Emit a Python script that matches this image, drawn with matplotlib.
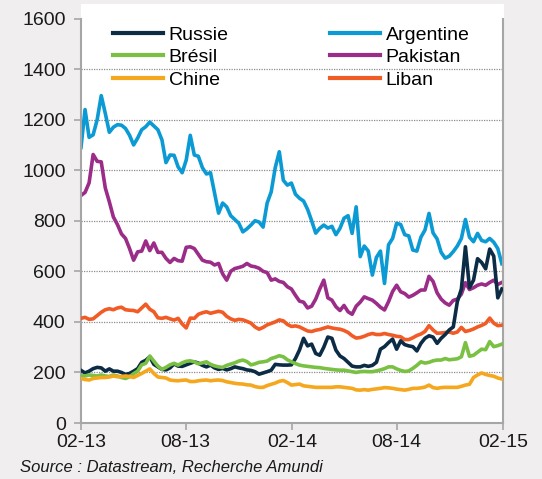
import matplotlib
matplotlib.use("Agg")
import matplotlib.pyplot as plt
import matplotlib.dates as mdates
from matplotlib.patches import Rectangle
import pandas as pd

plt.rcParams['font.family'] = ['Liberation Sans', 'DejaVu Sans']

# Spreads hebdomadaires (pb), fev. 2013 -> fev. 2015
dates = pd.date_range('2013-02-01', periods=105, freq='7D')

russie = [208, 198, 205, 215, 220, 218, 205, 214, 205, 205,
          200, 192, 196, 205, 215, 240, 248, 262, 232, 222,
          212, 210, 218, 234, 225, 224, 230, 236, 242, 237,
          228, 222, 229, 218, 212, 216, 210, 215, 222, 218,
          215, 210, 208, 203, 193, 198, 203, 209, 232, 230,
          229, 229, 230, 255, 289, 335, 305, 312, 275, 268,
          300, 340, 335, 288, 265, 255, 240, 225, 222, 222,
          228, 224, 228, 240, 292, 302, 318, 332, 292, 325,
          310, 305, 302, 285, 315, 335, 345, 340, 315, 335,
          350, 368, 380, 480, 530, 697, 535, 565, 650, 635,
          610, 688, 660, 495, 530]

argentine = [1090, 1240, 1130, 1140, 1200, 1295, 1225, 1150, 1170, 1180,
             1178, 1165, 1138, 1100, 1127, 1160, 1172, 1190, 1175, 1160,
             1120, 1030, 1060, 1059, 1013, 990, 1040, 1138, 1060, 1055,
             1010, 985, 990, 910, 830, 870, 855, 820, 805, 790,
             756, 768, 783, 800, 795, 775, 870, 914, 1010, 1073,
             960, 941, 949, 905, 889, 878, 845, 800, 751, 770,
             783, 771, 778, 745, 770, 810, 820, 750, 855, 658,
             700, 680, 585, 655, 680, 552, 705, 730, 790, 785,
             745, 740, 684, 680, 735, 763, 829, 752, 728, 675,
             652, 660, 678, 700, 730, 805, 735, 717, 750, 722,
             717, 730, 715, 690, 630]

bresil = [188, 186, 190, 188, 186, 190, 186, 184, 190, 186,
          180, 176, 183, 195, 205, 230, 236, 265, 245, 225,
          212, 220, 230, 236, 229, 238, 244, 246, 242, 234,
          238, 242, 232, 226, 222, 220, 228, 233, 238, 245,
          249, 243, 230, 234, 240, 242, 245, 255, 260, 266,
          262, 250, 242, 235, 229, 226, 224, 222, 220, 219,
          216, 214, 212, 210, 209, 209, 206, 203, 200, 203,
          204, 203, 203, 206, 210, 215, 222, 222, 214, 208,
          204, 206, 216, 228, 242, 237, 240, 246, 249, 249,
          255, 250, 252, 254, 262, 318, 264, 268, 280, 292,
          290, 322, 302, 306, 312]

pakistan = [900, 912, 950, 1062, 1035, 1033, 930, 875, 815, 785,
            748, 730, 690, 644, 677, 680, 720, 682, 712, 675,
            675, 651, 635, 651, 642, 640, 695, 697, 690, 667,
            644, 638, 636, 625, 631, 590, 565, 600, 611, 615,
            620, 631, 621, 618, 612, 600, 595, 565, 570, 560,
            556, 539, 530, 505, 482, 478, 455, 462, 490, 530,
            565, 495, 486, 460, 445, 465, 440, 430, 462, 478,
            499, 492, 486, 473, 458, 447, 480, 520, 545, 519,
            512, 498, 505, 515, 526, 526, 580, 560, 515, 490,
            475, 466, 485, 490, 510, 555, 528, 535, 545, 550,
            545, 556, 565, 548, 556]

chine = [176, 172, 170, 176, 178, 180, 180, 182, 186, 183,
         184, 186, 184, 180, 188, 196, 205, 214, 196, 182,
         180, 178, 170, 168, 167, 169, 170, 164, 164, 167,
         169, 170, 167, 169, 170, 168, 163, 160, 157, 155,
         154, 151, 150, 144, 141, 141, 148, 153, 158, 165,
         168, 160, 150, 152, 154, 147, 145, 143, 141, 141,
         141, 141, 141, 143, 143, 141, 139, 137, 131, 130,
         132, 130, 133, 135, 137, 140, 139, 137, 134, 132,
         130, 133, 137, 137, 139, 142, 150, 140, 137, 140,
         141, 141, 141, 141, 145, 150, 153, 180, 190, 198,
         192, 188, 185, 178, 174]

liban = [414, 418, 410, 412, 425, 438, 448, 452, 448, 455,
         458, 448, 446, 445, 440, 455, 470, 450, 440, 416,
         414, 418, 412, 407, 414, 392, 376, 415, 414, 430,
         436, 440, 434, 438, 442, 438, 422, 412, 406, 410,
         408, 402, 395, 380, 371, 378, 388, 394, 400, 408,
         404, 390, 382, 384, 380, 372, 364, 362, 367, 370,
         375, 380, 376, 373, 371, 366, 358, 345, 336, 338,
         343, 350, 354, 350, 350, 354, 350, 347, 343, 341,
         330, 330, 337, 346, 352, 362, 385, 368, 355, 356,
         358, 360, 355, 360, 378, 362, 366, 372, 380, 386,
         394, 415, 395, 385, 387]

# ordre des colonnes de la legende : Russie/Bresil/Chine puis Argentine/Pakistan/Liban
series = [
    ('Russie', russie, '#0c2c45', 4),
    ('Brésil', bresil, '#79c043', 5),
    ('Chine', chine, '#f5a71e', 6),
    ('Argentine', argentine, '#0b9ad4', 2),
    ('Pakistan', pakistan, '#9b2c88', 2),
    ('Liban', liban, '#f15b25', 3),
]

fig = plt.figure(figsize=(5.42, 4.79), dpi=100)
fig.patch.set_facecolor('#f0eeef')

W, H = 542, 479
left, right, bottom, top = 81, 503, 423, 18.5
ax = fig.add_axes([left / W, 1 - bottom / H, (right - left) / W, (bottom - top) / H])
ax.set_facecolor('white')

# zone blanche du graphique (depasse un peu au-dessus de 1600)
fig.patches.append(Rectangle((left / W, 1 - bottom / H), (right + 1 - left) / W,
                             (bottom - 4) / H, transform=fig.transFigure,
                             facecolor='white', edgecolor='none', zorder=-1))

for name, values, color, z in series:
    ax.plot(dates, values, color=color, lw=2.6, label=name, zorder=z,
            solid_joinstyle='round')

ax.set_ylim(0, 1600)
ax.set_yticks(range(0, 1601, 200))
ax.set_xlim(pd.Timestamp('2013-02-01'), pd.Timestamp('2015-02-01'))
ax.xaxis.set_major_locator(mdates.MonthLocator(bymonth=[2, 8]))
ax.xaxis.set_major_formatter(mdates.DateFormatter('%m-%y'))

# grille pointillee, sauf en 0 et 1600
for yv in range(200, 1600, 200):
    ax.axhline(yv, color='#8c8c8c', lw=0.9, ls=(0, (1, 1)), zorder=1)

for side in ['left', 'bottom', 'right']:
    ax.spines[side].set_color('#a6a6a6')
    ax.spines[side].set_linewidth(1.5)
ax.spines['top'].set_visible(False)

ax.tick_params(axis='both', colors='#a6a6a6', labelcolor='#1a1a1a',
               labelsize=14, length=5, width=1.2, direction='out')
ax.tick_params(axis='y', pad=6)
ax.tick_params(axis='x', pad=3)

ax.legend(loc='upper left', bbox_to_anchor=(113 / W, 1 - 26 / H),
          bbox_transform=fig.transFigure, ncol=2, frameon=False,
          fontsize=14, handlelength=2.57, handletextpad=0.3,
          columnspacing=5.2, labelspacing=0.26, borderpad=0,
          borderaxespad=0)
for line in ax.get_legend().get_lines():
    line.set_linewidth(3)

fig.text(20 / W, 1 - 467 / H, 'Source : Datastream, Recherche Amundi',
         fontsize=12, style='italic', color='#1a1a1a', va='center', ha='left')

fig.savefig('out.png', dpi=100, facecolor=fig.get_facecolor())
